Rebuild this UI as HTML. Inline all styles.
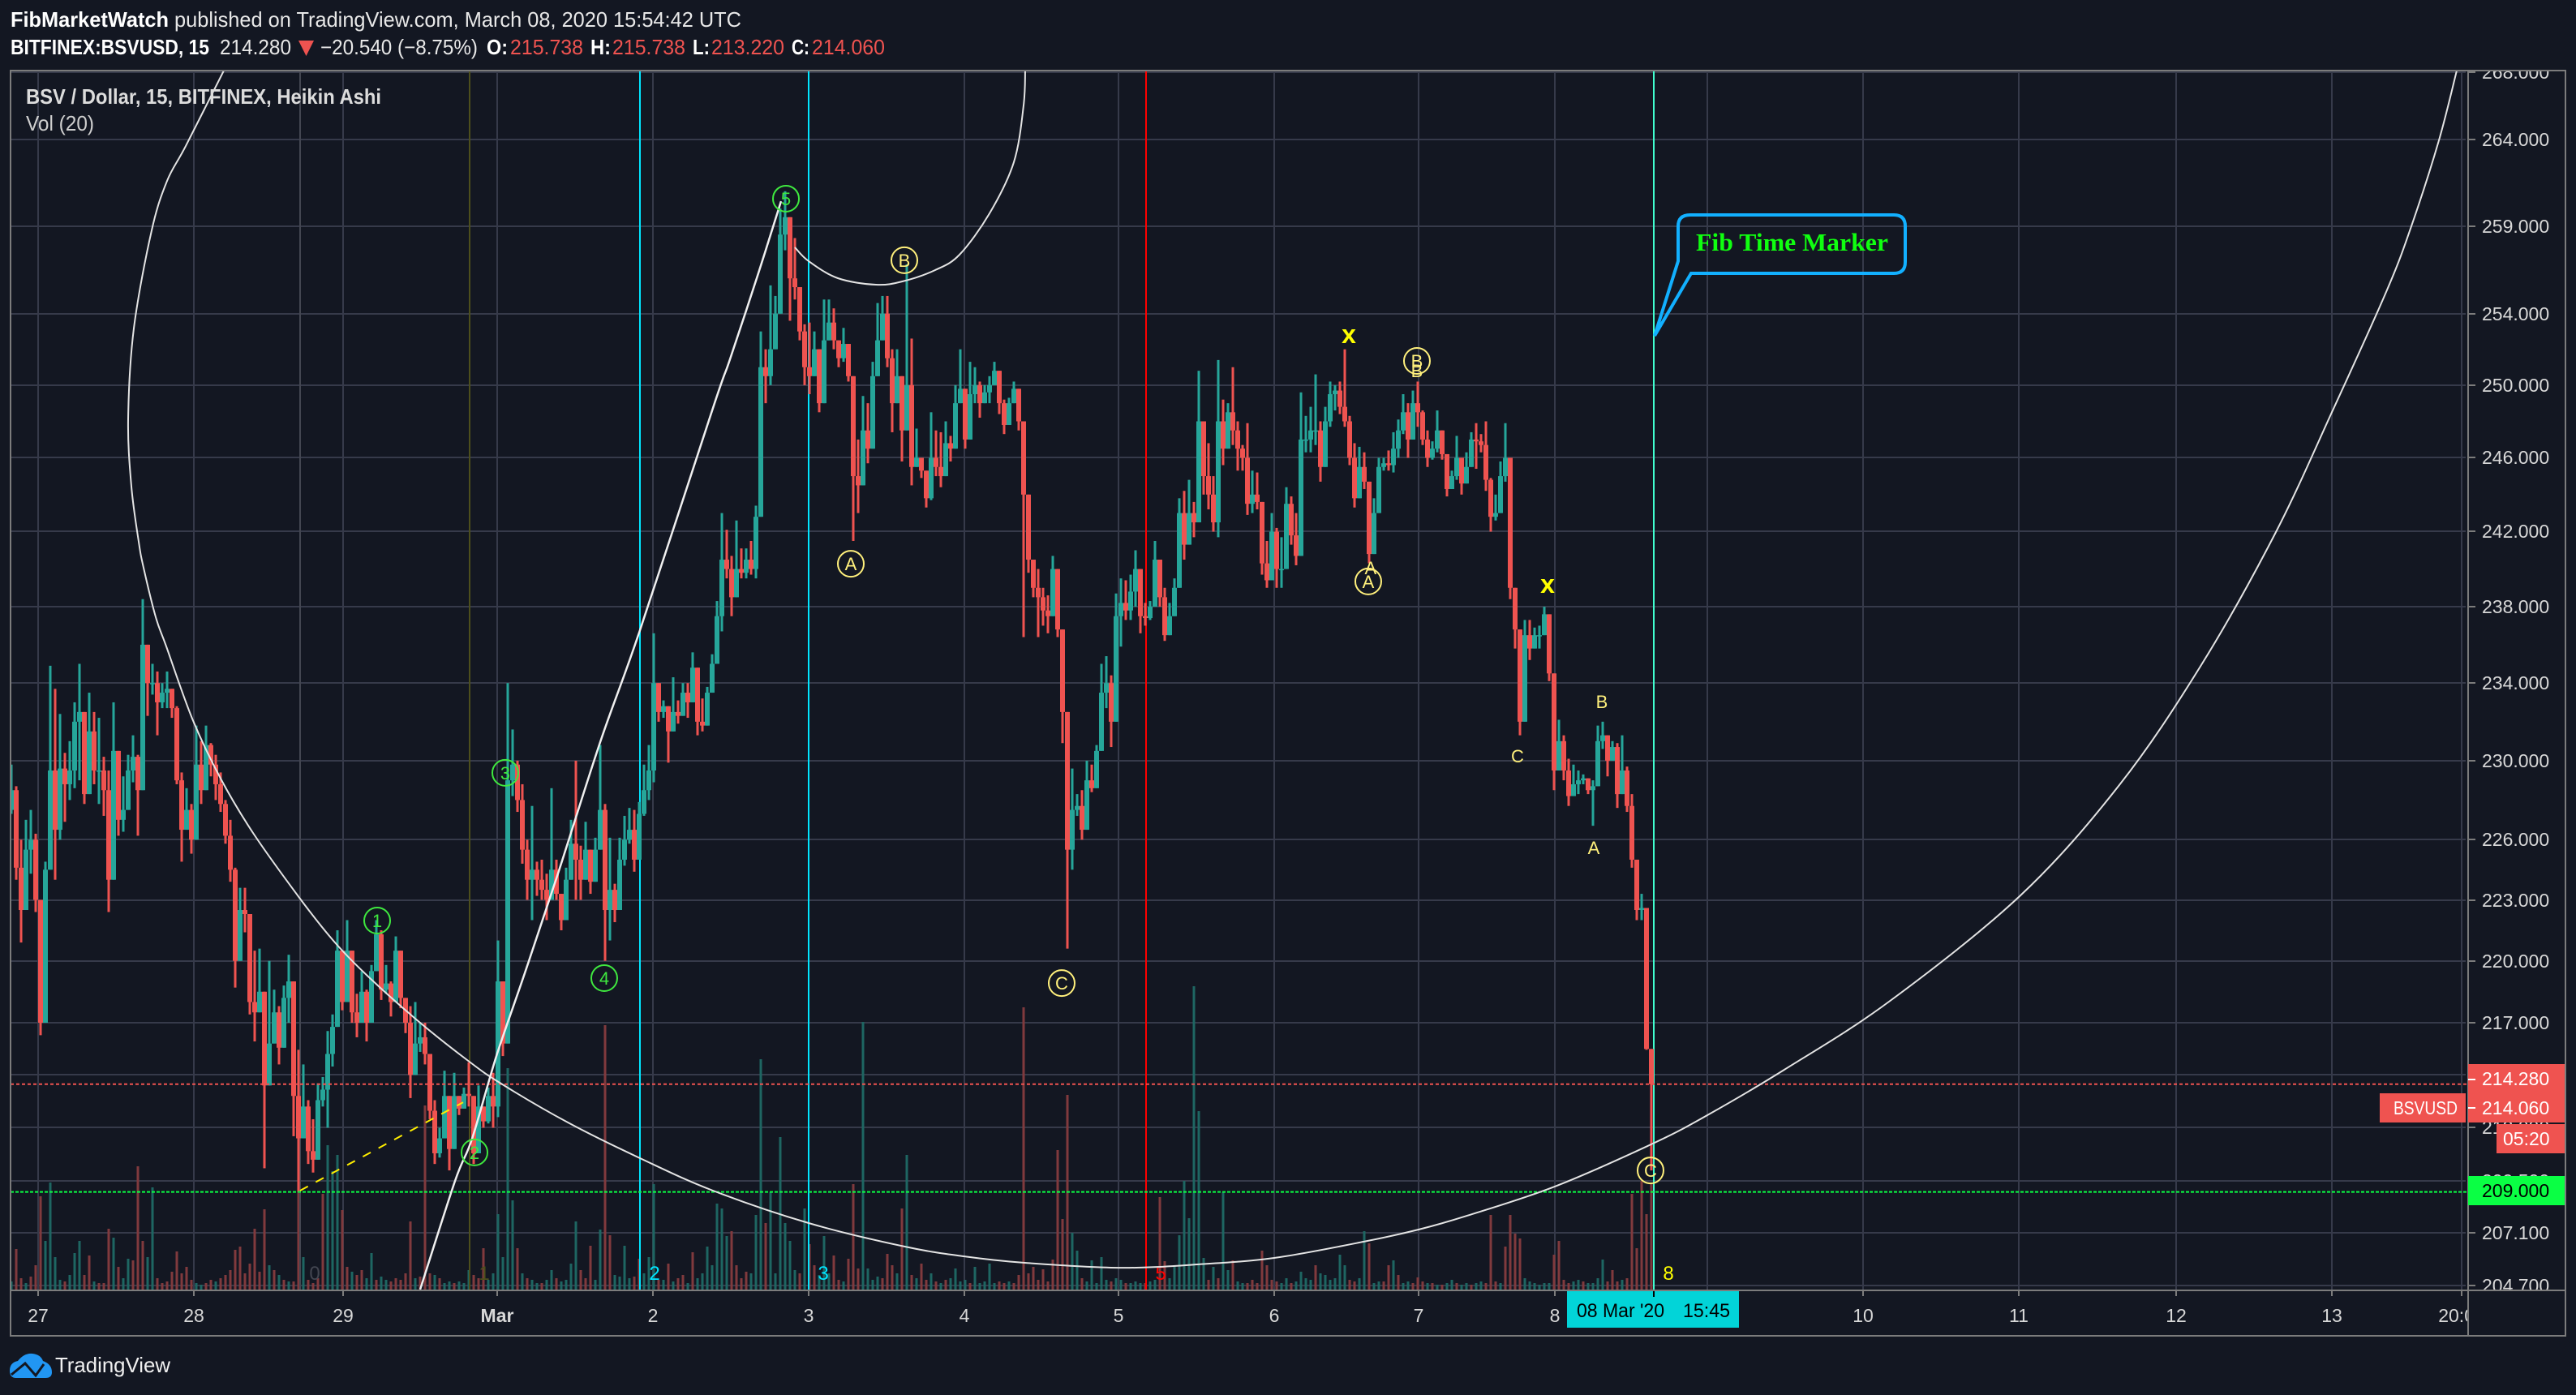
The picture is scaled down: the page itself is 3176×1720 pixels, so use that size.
<!DOCTYPE html>
<html lang="en">
<head>
<meta charset="utf-8">
<title>BSVUSD Heikin Ashi chart</title>
<style>
html,body{margin:0;padding:0;background:#131722;width:3176px;height:1720px;overflow:hidden}
svg{display:block}
text{font-family:"Liberation Sans",sans-serif}
</style>
</head>
<body>
<svg id="chart" xmlns="http://www.w3.org/2000/svg" width="3176" height="1720" viewBox="0 0 3176 1720">
<defs>
<clipPath id="plot-clip"><rect x="13" y="88" width="3030" height="1503"/></clipPath>
<clipPath id="price-clip"><rect x="3044" y="88" width="118" height="1503"/></clipPath>
<clipPath id="time-clip"><rect x="13" y="1592" width="3029" height="54"/></clipPath>
</defs>
<rect x="0" y="0" width="3176" height="1720" fill="#131722"/>
<g fill="#ffffff" font-size="26">
<text x="13" y="33" font-weight="bold" textLength="195" lengthAdjust="spacingAndGlyphs">FibMarketWatch</text>
<text x="215" y="33" textLength="699" lengthAdjust="spacingAndGlyphs" fill="#e8e8e8">published on TradingView.com, March 08, 2020 15:54:42 UTC</text>
</g>
<g font-size="26" fill="#ffffff">
<text x="13" y="67" font-weight="bold" textLength="245" lengthAdjust="spacingAndGlyphs">BITFINEX:BSVUSD, 15</text>
<text x="271" y="67" textLength="88" lengthAdjust="spacingAndGlyphs" fill="#e8e8e8">214.280</text>
<polygon points="368,50 387,50 377.5,69" fill="#ef5350"/>
<text x="395" y="67" textLength="194" lengthAdjust="spacingAndGlyphs" fill="#e8e8e8">−20.540 (−8.75%)</text>
<text x="600" y="67" font-weight="bold" textLength="26" lengthAdjust="spacingAndGlyphs">O:</text>
<text x="629" y="67" textLength="90" lengthAdjust="spacingAndGlyphs" fill="#ef5350">215.738</text>
<text x="728" y="67" font-weight="bold" textLength="25" lengthAdjust="spacingAndGlyphs">H:</text>
<text x="755" y="67" textLength="90" lengthAdjust="spacingAndGlyphs" fill="#ef5350">215.738</text>
<text x="854" y="67" font-weight="bold" textLength="21" lengthAdjust="spacingAndGlyphs">L:</text>
<text x="877" y="67" textLength="90" lengthAdjust="spacingAndGlyphs" fill="#ef5350">213.220</text>
<text x="976" y="67" font-weight="bold" textLength="22" lengthAdjust="spacingAndGlyphs">C:</text>
<text x="1001" y="67" textLength="90" lengthAdjust="spacingAndGlyphs" fill="#ef5350">214.060</text>
</g>
<g id="grid"></g>
<g id="axis-labels"></g>
<g clip-path="url(#plot-clip)">
<g id="volume"></g>
<g id="fib-lines"></g>
<g id="candles"></g>
<g id="price-lines"></g>
<g id="drawings"></g>
<g id="waves"></g>
</g>
<g>
<path d="M2084 265 H2335 Q2349 265 2349 279 V323 Q2349 337 2335 337 H2085 L2040 414 L2069 322 V279 Q2069 265 2084 265 Z" fill="none" stroke="#12b0ff" stroke-width="4" stroke-linejoin="miter"/>
<text x="2091" y="309" font-size="31" font-weight="bold" textLength="237" lengthAdjust="spacingAndGlyphs" fill="#10ff10" style="font-family:'Liberation Serif',serif">Fib Time Marker</text>
</g>
<g>
<text x="32" y="128" font-size="26" font-weight="bold" textLength="438" lengthAdjust="spacingAndGlyphs" fill="#dcdcdc">BSV / Dollar, 15, BITFINEX, Heikin Ashi</text>
<text x="32" y="161" font-size="26" textLength="84" lengthAdjust="spacingAndGlyphs" fill="#cfcfcf">Vol (20)</text>
</g>
<g fill="none" stroke="#7c7c7c" stroke-width="2">
<rect x="13" y="87" width="3150" height="1560"/>
<line x1="3043" y1="87" x2="3043" y2="1647"/>
<line x1="13" y1="1591" x2="3163" y2="1591"/>
</g>
<g font-size="23">
<rect x="3043" y="1312" width="119" height="72" fill="#ef5350"/>
<line x1="3043" y1="1331" x2="3052" y2="1331" stroke="#ffffff" stroke-width="2"/>
<line x1="3043" y1="1366" x2="3052" y2="1366" stroke="#ffffff" stroke-width="2"/>
<text x="3060" y="1338" fill="#ffffff">214.280</text>
<text x="3060" y="1374" fill="#ffffff">214.060</text>
<rect x="2934" y="1348" width="106" height="36" fill="#ef5350"/>
<text x="2951" y="1374" textLength="79" lengthAdjust="spacingAndGlyphs" fill="#ffffff">BSVUSD</text>
<rect x="3078" y="1386" width="84" height="36" fill="#ef5350"/>
<text x="3086" y="1412" fill="#ffffff">05:20</text>
<rect x="3043" y="1450" width="119" height="36" fill="#0aff44"/>
<line x1="3043" y1="1469" x2="3052" y2="1469" stroke="#0aff44" stroke-width="2"/>
<text x="3060" y="1476" fill="#000000">209.000</text>
</g>
<g>
<rect x="1932" y="1592" width="212" height="45" fill="#02d4d8"/>
<line x1="2039" y1="1592" x2="2039" y2="1599" stroke="#000000" stroke-width="2"/>
<text x="1944" y="1624" font-size="24" textLength="108" lengthAdjust="spacingAndGlyphs" fill="#000000">08 Mar '20</text>
<text x="2075" y="1624" font-size="24" textLength="58" lengthAdjust="spacingAndGlyphs" fill="#000000">15:45</text>
</g>
<g>
<path d="M12 1690 Q12 1680 22 1678 Q30 1668 40 1669 Q50 1670 53 1678 Q64 1682 64 1692 Q64 1699 56 1699 H20 Q12 1699 12 1690 Z" fill="#2196f3"/>
<polyline points="14,1695 31,1681 44,1696 54,1682" fill="none" stroke="#131722" stroke-width="3"/>
<text x="68" y="1692" font-size="26" textLength="142" lengthAdjust="spacingAndGlyphs" fill="#f0f0f0">TradingView</text>
</g>
</svg>
<script>
// Price scale ticks (log axis)
const priceTicks = [268,264,259,254,250,246,242,238,234,230,226,223,220,217,214.5,212,209.5,207.1,204.7];
// Time axis: labels and the 45-minute slot where each starts
const timeLabels = ['27','28','29','Mar','2','3','4','5','6','7','8','9','10','11','12','13','20:00'];
const timeSlots = [5.5,37.5,68.17,99.83,131.83,163.83,195.83,227.5,259.5,289.17,317.17,348.5,380.5,412.5,444.83,476.83,503.5];
// Fib time zones
const fibLabels = ['0','1','2','3','5','8'];
const fibSlots = [59.33,94.17,129.17,163.83,233.17,337.5];
const fibColors = ['#434651','#4d4f1c','#00e5ff','#00e5ff','#ff0000','#40ffcf'];
const fibTextColors = ['#434651','#4d4f1c','#00e5ff','#00e5ff','#ff0000','#ffff00'];

// Candles (each slot aggregates three 15-minute bars)
const firstOpen = 227.5;
const candleHigh = [
229.8,228.7,226,227,227.5,226.3,223,224.9,234.9,233.7,
232.4,230.4,231,233,235,232.5,233.5,232.5,232.2,230.2,
229.5,233,230.5,229.2,230.3,231.3,230.3,238.4,236,235,
234.6,234,234.6,233.7,232.8,229.4,228.6,227.8,231.8,231,
231.8,230.9,230.3,229.4,228,227,224.6,223.6,223.6,222.3,
220.5,220.6,218.5,220,218.6,217.8,218.8,220.3,219,215.7,
215,213.3,212.4,214.1,214.4,216.6,217.4,221.5,220.5,222,
220.5,218.4,219.5,218.6,219.8,222,221.5,219.8,219,221.2,
220.5,218.2,217.8,218,217,217,215.5,213.3,212,214.7,
213.5,214.6,213.5,213.9,215.1,213.5,214,213,213.9,214.6,
221,219,234,231.6,230,228.8,226,227.7,224.9,225,
224.3,228.6,225,223.3,224.6,227,230,225.7,226.9,225.5,
226.1,230.8,227.8,226.1,223.8,226.1,227.2,227.6,227.5,227.9,
229.8,230.8,236.6,234,233.1,232.8,234.3,233.1,234,234,
235.6,234.8,233.2,233.8,235.5,238.3,243,242.1,240.7,242.6,
241.1,241.1,241.5,243.4,253,252,255.6,255,260,261,
259.5,258.3,255.5,253.4,253.5,253,252,254.8,254.8,254.3,
252.5,253.2,252.3,250.5,247,249.4,249,251.3,254.6,255,
255,252,252,250.5,256.8,252.6,247.6,246,245.3,248.5,
247.5,247.4,248,247.2,250,252,249.8,251.3,251,250.2,
250,250.5,251.3,250.8,249.2,249.3,250.2,249.8,248,244,
240.5,240,239,238.6,240.7,240,236.8,232.5,229.6,228.3,
228.5,230,229.8,230.8,235,235.4,234.4,238.7,239.5,239.4,
239.7,241,240,238.2,238.3,241.5,240.5,239,238.2,239.5,
243.8,244.2,244.8,243.6,250.8,248,246.8,245,251.4,249.2,
249,251,248,246.7,247.9,245.3,245.2,243.6,241.5,243,
242.2,241.7,244.4,243.9,243,249.6,248.3,248.8,250.6,248,
248.8,250.2,250,250.2,252,248.3,246.8,246.6,246.3,244.7,
243.8,246,246,246.4,247.4,248.1,249.5,249,249.7,250.2,
248.6,247.5,246.9,248.6,247.5,246.2,245.3,247.2,246,246.3,
247.4,247.9,247.3,248,244.9,244,245.8,247.9,246,239,
236.8,237.3,237.3,236.9,237,238,237.6,234.5,232.1,231.3,
230.1,229.8,229.5,229.3,229.1,229,231.8,232,231.3,231,
230.9,231.3,229.7,228.3,225,223.3,222.6,215.74];
const candleLow = [
227.3,224,220.9,223.2,224.3,222.4,216.4,217,224.5,224,
226,226.9,228,228.6,229,227.8,228.3,228.8,227.8,227.2,
222.4,224,226.2,226.4,227.5,228.9,226.2,228.5,232.3,233.4,
231.3,232.7,232.7,232.2,228.8,224.9,226.5,225.3,226,227.8,
228.5,229.2,228,227.4,225.8,223.9,218.7,220,221.4,217.4,
216.1,217.5,210.1,214,216,215,215.8,217,211.6,209,
211.5,210.3,209.9,210.5,213,212,214.9,216.8,217.6,218,
217,216.3,217,216.1,217,219.5,218.1,218.4,217.3,218,
217.7,216.5,213.4,214.5,215.6,215,212.4,210.3,210.6,211.5,
210,211,212.6,212.9,213,210.3,210.8,212,212.2,212,
212.5,215.4,216,228.2,227.4,224.8,223,222,223.2,223,
222,223,223,221.5,222,224,223,223,224,223.3,
223.9,225.5,220,221,221.9,222.5,224.7,225.8,224.4,225,
227.2,228,228.9,232,232.2,229.9,231.5,231.9,232.3,232.2,
233,231.3,231.5,231.8,233.5,235,236.7,239.5,237.5,238.5,
239.5,239.5,239.7,239.5,242.8,249,250,252,254,257.6,
253.6,254.8,252.5,250,249.5,250.5,248.5,249,252.5,252,
251,251.3,250.2,241.5,243,244.5,245.7,246.5,250.5,252.5,
251,247.4,249,245.8,247.5,244.5,245.5,244.9,243.3,243.7,
245,244.4,245,245.8,246.5,249,246.5,247,249,248.2,
249,249,250,248.4,247.3,247.8,249,247.5,236.4,239.8,
238.5,236.4,237,236.6,237.5,236.4,230.9,220.6,224.5,227.2,
226,226.5,228.4,228.6,230.5,232.7,230.7,232,235.9,237.3,
237.3,238,236.6,237,237.3,238,238,236.2,236.5,237.5,
239,240.5,241.3,241.7,242.5,244,243.2,242,241.7,245.6,
246.5,246.7,245.3,245.3,242.9,243,243.2,239.7,239,239.4,
239,239,240,241.3,240.2,240.7,246.3,246.3,246.7,244.7,
245.5,247.7,248.6,248.4,247.7,245.6,243.3,243.8,244.3,240.3,
240.8,243,245.3,245.3,245.2,246,247.3,246,247,247.7,
246.7,245.5,245.9,246.3,245.9,243.9,244.3,244.8,244,244.6,
245.5,245.4,246.3,244.2,242,242.6,243,244.7,238.4,235.8,
231.3,232,235.2,235.8,235.8,236.5,234.1,228.5,229.5,229,
227.7,228.2,228.3,228.8,228.3,226.7,228.7,230.6,229.2,230,
227.6,228.3,227.4,224.6,222,222,215.7,210];
const candleClose = [
228.5,224.6,222.5,225.5,226,223,217,224.5,229.5,226.5,
229.6,228.8,229.5,232,232.5,228.3,231.5,229.5,229.5,228.5,
224,230.5,227,227.5,229.5,230.2,228.5,236,234,234,
233,233.5,233.7,232.7,229,226.5,227.5,226,229.8,228.5,
230.8,229.8,228.8,227.8,226.2,224.5,220,222.5,222.3,218,
217.5,218.5,214,216,217.5,215.8,218.2,219,213.5,211.5,
213,210.9,210.5,213.3,213.8,215.5,216.8,220.5,218,220.5,
217.5,217,218.5,217,219.5,221.3,218.6,218.9,218,220.5,
218.2,217,214.5,216,216.3,215.5,212.8,210.8,211.5,213.5,
211,213.5,212.9,213.6,213.5,210.8,213,212.3,213.5,213,
219,216,229,229.8,228,225.5,224,224.5,224,223.5,
223,224.5,223.3,222,224,225.8,225,224,225.5,223.9,
225.5,227.5,222.5,223.5,222.5,225,226,226.5,225,227.3,
228.5,229.5,234,232.5,232.8,231.5,232.5,232.3,233.5,233,
234.8,232,231.8,233.5,235,237.5,240.5,240,238.5,240,
239.8,240.5,240,242.8,251,250.5,252,254,258.5,259.5,
256,255.5,253,251,250.5,252,249,252.5,253.5,252.5,
251.5,252.3,250.5,245,244.5,247.5,246.5,250.5,252.5,254,
251.5,249,250.5,247.5,250,245.5,246,245.3,243.8,246,
245.5,245,246.8,246.5,249,249.8,247,249.5,250,249,
249.6,250,250.8,249,247.8,249,249.8,248,244,240.5,
239,238.5,237.8,237.5,240,236.8,232.5,225.5,227.5,227.7,
226.5,229,228.6,230.5,233.5,234,232,237.5,238.2,237.8,
238.8,240,237.5,237.4,238,240.5,238.5,236.5,237.5,239,
243,241.3,243,242.5,248,245,244,242.5,248,246.5,
248.5,247.5,246.5,246,243.5,244,243.6,240.3,239.4,242,
240,240,243.5,241.8,240.7,247,247,247.5,247.5,245.5,
248,249.5,249.7,248.8,248,246,243.8,245.5,244.7,240.8,
243,245.5,245.7,245.6,246.5,247.5,248.5,247,249,248.5,
247,246,246.5,247.5,246.2,244.3,245,246,244.6,245.5,
247,246.9,246.7,244.8,242.8,243,245,246,239,236.8,
232,236.5,235.8,236.5,236.5,237.6,234.5,229.5,231,229.5,
228.2,228.8,229,229.1,228.5,228.7,231,231.3,230,230.7,
228.3,229.5,227.7,225,222.5,222.6,215.74,214.06];
// Volume per slot: positive = up bar (teal), negative = down bar (red)
const volumeValues = [
10,-50,-14,8,-16,-30,-115,60,132,40,12,-10,18,45,60,-18,-42,10,-8,-8,
-75,64,-28,14,38,-36,-152,-60,40,126,-14,-8,-10,-22,-47,-20,-28,-12,8,6,
-8,-12,10,-14,-18,-24,-49,-53,-20,-32,-75,-22,-99,30,-24,18,-12,10,-10,-134,
40,-12,-8,-14,-118,178,146,166,-98,-28,22,-18,-24,14,45,-12,16,12,-10,-14,
-12,-20,-84,14,-16,-227,-20,18,-14,8,10,-8,10,8,24,-18,-14,-51,12,20,
93,40,273,110,-51,20,-14,12,8,-8,12,24,-14,10,12,32,84,-24,-14,-54,
12,74,-326,-67,18,16,54,14,-16,-38,20,40,130,-12,12,-32,10,-14,-18,8,
-46,14,20,53,30,106,100,66,-72,-30,-14,-22,20,92,284,-82,120,20,188,82,
60,24,-20,100,-56,-30,18,66,20,-42,-12,10,-38,-130,-26,330,26,12,16,-14,
-44,-30,20,-100,166,-18,14,-32,-12,20,-10,8,-12,14,26,10,12,-8,28,8,
10,32,8,-10,-8,10,-8,-18,-348,-20,-28,-12,-25,-10,-37,-172,-87,-240,70,48,
-14,10,36,8,40,12,-10,14,12,-8,8,10,8,-8,10,12,-114,-35,14,30,
67,134,88,374,220,39,-12,28,-14,120,24,-36,10,8,-8,-12,-8,-48,-30,-12,
-10,8,14,-8,10,22,14,12,-30,20,18,12,14,43,30,-12,-10,14,72,-57,
8,10,-10,-30,36,-18,8,10,-8,-15,-10,8,-8,6,-6,8,12,-8,6,8,
-6,8,10,-8,-92,-10,8,-53,-92,-69,-63,14,10,8,6,8,8,-43,-60,-12,
-8,10,12,-10,8,8,14,37,-10,-24,-10,12,-14,-118,-51,-134,-93,-130];

// Horizontal levels
const lastCloseLevel = 214.06;
const greenLevel = 209;
// Fib circle drawn on the chart (slot, price)
const outerArcSlots = [43.67,35.83,32,28.83,25.17,24,24.67,26.17,27.17,29.67,31.83,37.17,43,49.67,59.33,66.5,73.5,84,93.67,100.33,114.33,129.17,144.17,163.83,183.5,195.83,208,227.5,243.67,259.5,277.83,289.17,299,317.17,337.33,348.5,364.33,385.83,412.83,433.17,450,465.17,477,488,493.17,498.83,502.5];
const outerArcPrices = [268.09,263.63,261.6,258.74,253.17,248.11,244.43,241.46,240.07,237.45,235.91,232.16,229.09,226.34,223.06,220.9,219.2,217,215.21,214.13,212.25,210.57,209.06,207.56,206.48,206.03,205.74,205.51,205.66,205.96,206.7,207.26,207.89,209.25,211.26,212.59,214.75,218.02,223.22,228.76,234.94,241.89,248.6,255.23,258.98,263.97,268.09];
const innerArcSlots = [161,163.83,169.83,177.67,183.17,189.83,194.83,201,206,208,208.33];
const innerArcPrices = [257.77,256.98,256.01,255.64,255.83,256.47,257.35,259.72,262.69,266.02,268.09];
const riseSlots = [84,91.17,94.67,99.67,105.5,112.17,121,129.17,144.33,147.67,153.5,158.17];
const risePrices = [204.52,209.51,211.48,215.4,219.4,224.19,230.95,236.76,248.87,251.44,256.29,260.42];
const dashSlots = [59.33,92.83];
const dashPrices = [209.06,213.2];
// Wave annotations
const waveLabels = ['1','2','3','4','5','A','B','C','A','B','C'];
const waveSlots = [75.17,95.17,101.5,121.83,159.17,172.5,183.5,215.83,278.83,288.83,336.83];
const wavePrices = [221.98,210.84,229.38,219.16,260.57,240.28,257.03,218.92,239.34,251.35,210];
const waveColors = ['#3fe83f','#3fe83f','#3fe83f','#3fe83f','#3fe83f','#fff07c','#fff07c','#fff07c','#fff07c','#fff07c','#fff07c'];
const plainLabels = ['C','B','A','A','B'];
const plainSlots = [309.5,326.83,325.17,279.3,288.83];
const plainPrices = [230.25,233.04,225.61,240.07,250.81];
const crossSlots = [274.83,315.67];
const crossPrices = [252.66,239.03];

const NS = 'http://www.w3.org/2000/svg';
// Axis functions
function xScale(slot){ return 14 + 6*slot; }
function yScale(price){ return 1261 + 5553*Math.log(217/price); }
function volY(v){ return 1590 - Math.abs(v); }

function make(tag, attrs, parent){
  const el = document.createElementNS(NS, tag);
  for (const k in attrs) el.setAttribute(k, attrs[k]);
  parent.appendChild(el);
  return el;
}
function smoothPath(slots, prices){
  const pts = slots.map((s,i)=>[xScale(s), yScale(prices[i])]);
  let d = 'M'+pts[0][0].toFixed(1)+' '+pts[0][1].toFixed(1);
  for (let i=0;i<pts.length-1;i++){
    const p0=pts[Math.max(i-1,0)],p1=pts[i],p2=pts[i+1],p3=pts[Math.min(i+2,pts.length-1)];
    const c1x=p1[0]+(p2[0]-p0[0])/6,c1y=p1[1]+(p2[1]-p0[1])/6;
    const c2x=p2[0]-(p3[0]-p1[0])/6,c2y=p2[1]-(p3[1]-p1[1])/6;
    d+=' C'+c1x.toFixed(1)+' '+c1y.toFixed(1)+' '+c2x.toFixed(1)+' '+c2y.toFixed(1)+' '+p2[0].toFixed(1)+' '+p2[1].toFixed(1);
  }
  return d;
}

const gridG = document.getElementById('grid');
const axisG = document.getElementById('axis-labels');
const GRID = '#363a4a';

priceTicks.forEach(function(p){
  const y = Math.round(yScale(p));
  const g = make('line',{x1:13,y1:y,x2:3040,y2:y,stroke:GRID,'stroke-width':2},gridG);
  
  
  const t = make('line',{x1:3043,y1:y,x2:3052,y2:y,stroke:'#7c7c7c','stroke-width':2},gridG);
  
  
  const l = make('text',{x:3060,y:y+8,'font-size':23,fill:'#d8d8d8','clip-path':'url(#price-clip)'},axisG);
  
  
  l.textContent = p.toFixed(3);
});

timeSlots.forEach(function(s,i){
  const x = Math.round(xScale(s));
  const g = make('line',{x1:x,y1:88,x2:x,y2:1590,stroke:GRID,'stroke-width':2},gridG);
  
  
  const t = make('line',{x1:x,y1:1591,x2:x,y2:1598,stroke:'#7c7c7c','stroke-width':2},gridG);
  
  
  const attrs = {x:x,y:1630,'font-size':23,fill:'#d8d8d8','text-anchor':'middle','clip-path':'url(#time-clip)'};
  if (timeLabels[i]==='Mar'){ attrs['font-weight']='bold'; }
  const l = make('text',attrs,axisG);
  
  
  l.textContent = timeLabels[i];
});

const volG = document.getElementById('volume');
volumeValues.forEach(function(v,i){
  const top = volY(v);
  const b = make('rect',{x:xScale(i)-1.5,y:top,width:3,height:1590-top,fill:v>=0?'#1e6662':'#803a3d'},volG);
  
  
});

const fibG = document.getElementById('fib-lines');
fibSlots.forEach(function(s,i){
  const x = Math.round(xScale(s));
  const l = make('line',{x1:x,y1:88,x2:x,y2:1590,stroke:fibColors[i],'stroke-width':2},fibG);
  
  
  const t = make('text',{x:x+18,y:1578,'font-size':24,'text-anchor':'middle',fill:fibTextColors[i]},fibG);
  
  
  t.textContent = fibLabels[i];
});

const candleG = document.getElementById('candles');
candleClose.forEach(function(c,i){
  const o = i===0 ? firstOpen : candleClose[i-1];
  const col = c>=o ? '#26a69a' : '#ef5350';
  const x = xScale(i);
  const w = make('rect',{x:x-1.5,y:yScale(candleHigh[i]),width:3,height:yScale(candleLow[i])-yScale(candleHigh[i]),fill:col},candleG);
  
  
  const yTop = yScale(Math.max(o,c));
  const yBot = yScale(Math.min(o,c));
  const b = make('rect',{x:x-3,y:yTop,width:6,height:Math.max(yBot-yTop,1.5),fill:col},candleG);
  
  
});

const lineG = document.getElementById('price-lines');
const redLine = make('line',{x1:13,y1:yScale(lastCloseLevel),x2:3042,y2:yScale(lastCloseLevel),stroke:'#ef5350','stroke-width':2,'stroke-dasharray':'4 3'},lineG);


const greenLine = make('line',{x1:13,y1:yScale(greenLevel),x2:3042,y2:yScale(greenLevel),stroke:'#0aff44','stroke-width':2,'stroke-dasharray':'4 2'},lineG);



const drawG = document.getElementById('drawings');
const outerArc = make('path',{d:smoothPath(outerArcSlots,outerArcPrices),fill:'none',stroke:'#e4e4e4','stroke-width':2},drawG);


const innerArc = make('path',{d:smoothPath(innerArcSlots,innerArcPrices),fill:'none',stroke:'#e4e4e4','stroke-width':2},drawG);


const riseLine = make('path',{d:smoothPath(riseSlots,risePrices),fill:'none',stroke:'#f0f0f0','stroke-width':2.5},drawG);


const dash = make('line',{x1:xScale(dashSlots[0]),y1:yScale(dashPrices[0]),x2:xScale(dashSlots[1]),y2:yScale(dashPrices[1]),stroke:'#ffee00','stroke-width':2,'stroke-dasharray':'11 11'},drawG);



const waveG = document.getElementById('waves');
waveLabels.forEach(function(lab,i){
  const x = xScale(waveSlots[i]);
  const y = yScale(wavePrices[i]);
  const c = make('ellipse',{cx:x,cy:y,rx:16,ry:16,fill:'none',stroke:waveColors[i],'stroke-width':2},waveG);
  
  
  const t = make('text',{x:x,y:y+8,'font-size':22,'text-anchor':'middle',fill:waveColors[i]},waveG);
  
  
  t.textContent = lab;
});
plainLabels.forEach(function(lab,i){
  const t = make('text',{x:xScale(plainSlots[i]),y:yScale(plainPrices[i])+8,'font-size':22,'text-anchor':'middle',fill:'#fff07c'},waveG);
  
  
  t.textContent = lab;
});
crossSlots.forEach(function(s,i){
  const t = make('text',{x:xScale(s),y:yScale(crossPrices[i])+7,'font-size':32,'font-weight':'bold','text-anchor':'middle',fill:'#ffff00'},waveG);
  
  
  t.textContent = 'x';
});
</script>
</body>
</html>
